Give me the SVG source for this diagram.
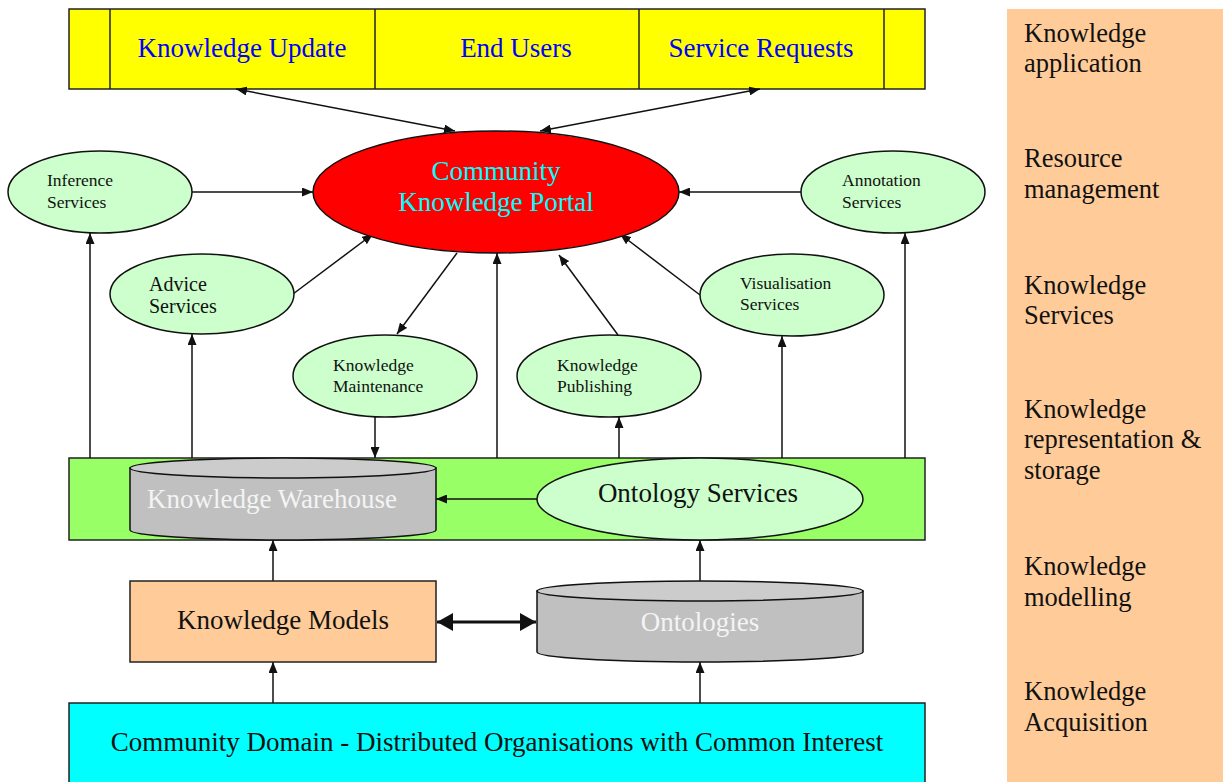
<svg xmlns="http://www.w3.org/2000/svg" width="1223" height="782" viewBox="0 0 1223 782">
<style>
text{font-family:"Liberation Serif","Times New Roman",serif;}
.box{stroke:#222;stroke-width:1.5;}
.ell{fill:#CCFFCC;stroke:#111;stroke-width:1.5;}
.big{font-size:27px;}
.sm{font-size:17.5px;fill:#111;}
.con{stroke:#111;stroke-width:1.5;fill:none;}
.blue{fill:#0000FF;}
.side{font-size:26.5px;fill:#111;}
</style>
<defs>
<marker id="ah" viewBox="0 0 11 9" refX="11" refY="4.5" markerWidth="11" markerHeight="9" markerUnits="userSpaceOnUse" orient="auto-start-reverse"><path d="M0,0 L11,4.5 L0,9 z" fill="#111"/></marker>
<marker id="bh" viewBox="0 0 16 18" refX="16" refY="9" markerWidth="16" markerHeight="18" markerUnits="userSpaceOnUse" orient="auto-start-reverse"><path d="M0,0 L16,9 L0,18 z" fill="#111"/></marker>
</defs>
<rect width="1223" height="782" fill="#fff"/>

<g id="layers">
<rect x="1007" y="9" width="216" height="773" fill="#FFCC99"/>
<text class="side" x="1024" y="42">Knowledge</text>
<text class="side" x="1024" y="72">application</text>
<text class="side" x="1024" y="167">Resource</text>
<text class="side" x="1024" y="198">management</text>
<text class="side" x="1024" y="294">Knowledge</text>
<text class="side" x="1024" y="324">Services</text>
<text class="side" x="1024" y="418">Knowledge</text>
<text class="side" x="1024" y="448">representation &amp;</text>
<text class="side" x="1024" y="479">storage</text>
<text class="side" x="1024" y="575">Knowledge</text>
<text class="side" x="1024" y="606">modelling</text>
<text class="side" x="1024" y="700">Knowledge</text>
<text class="side" x="1024" y="731">Acquisition</text>
</g>

<g id="application-bar">
<rect class="box" x="69" y="9" width="856" height="80" fill="#FFFF00"/>
<line class="box" x1="110" y1="9" x2="110" y2="89"/>
<line class="box" x1="375" y1="9" x2="375" y2="89"/>
<line class="box" x1="639" y1="9" x2="639" y2="89"/>
<line class="box" x1="884" y1="9" x2="884" y2="89"/>
<text class="big blue" x="242" y="57" text-anchor="middle">Knowledge Update</text>
<text class="big blue" x="516" y="57" text-anchor="middle">End Users</text>
<text class="big blue" x="761" y="57" text-anchor="middle">Service Requests</text>
</g>

<g id="knowledge-services-bar">
<rect class="box" x="69" y="458" width="856" height="82" fill="#99FF66"/>
</g>

<g id="community-domain">
<rect class="box" x="69" y="703" width="856" height="90" fill="#00FFFF"/>
<text class="big" x="497" y="751" text-anchor="middle" fill="#111">Community Domain - Distributed Organisations with Common Interest</text>
</g>

<g id="connectors">
<line class="con" x1="236" y1="89" x2="455" y2="131" marker-start="url(#ah)" marker-end="url(#ah)"/>
<line class="con" x1="540" y1="131" x2="760" y2="89" marker-start="url(#ah)" marker-end="url(#ah)"/>
<line class="con" x1="192" y1="192" x2="313" y2="192" marker-end="url(#ah)"/>
<line class="con" x1="802" y1="192" x2="679" y2="192" marker-end="url(#ah)"/>
<line class="con" x1="293" y1="294" x2="373" y2="234" marker-end="url(#ah)"/>
<line class="con" x1="700" y1="295" x2="620" y2="234" marker-end="url(#ah)"/>
<line class="con" x1="457" y1="253" x2="397" y2="334" marker-end="url(#ah)"/>
<line class="con" x1="618" y1="335" x2="559" y2="255" marker-end="url(#ah)"/>
<line class="con" x1="497" y1="458" x2="497" y2="253" marker-end="url(#ah)"/>
<line class="con" x1="375" y1="417" x2="375" y2="458" marker-end="url(#ah)"/>
<line class="con" x1="619" y1="458" x2="619" y2="417" marker-end="url(#ah)"/>
<line class="con" x1="90" y1="458" x2="90" y2="233" marker-end="url(#ah)"/>
<line class="con" x1="192" y1="458" x2="192" y2="334" marker-end="url(#ah)"/>
<line class="con" x1="782" y1="458" x2="782" y2="336" marker-end="url(#ah)"/>
<line class="con" x1="905" y1="458" x2="905" y2="233" marker-end="url(#ah)"/>
<line class="con" x1="537" y1="499" x2="436" y2="499" marker-end="url(#ah)"/>
<line class="con" x1="273" y1="581" x2="273" y2="540" marker-end="url(#ah)"/>
<line class="con" x1="273" y1="703" x2="273" y2="662" marker-end="url(#ah)"/>
<line class="con" x1="700" y1="581" x2="700" y2="540" marker-end="url(#ah)"/>
<line class="con" x1="700" y1="703" x2="700" y2="662" marker-end="url(#ah)"/>
<line x1="437" y1="622" x2="536" y2="622" stroke="#111" stroke-width="3" marker-start="url(#bh)" marker-end="url(#bh)"/>
</g>

<g id="portal">
<ellipse cx="496" cy="192" rx="183" ry="61" fill="#FF0000" stroke="#111" stroke-width="1.5"/>
<text class="big" x="496" y="180" text-anchor="middle" fill="#00FFFF">Community</text>
<text class="big" x="496" y="211" text-anchor="middle" fill="#00FFFF">Knowledge Portal</text>
</g>

<g id="inference-services">
<ellipse class="ell" cx="100" cy="192" rx="92" ry="41"/>
<text class="sm" x="47" y="186">Inference</text>
<text class="sm" x="47" y="208">Services</text>
</g>

<g id="annotation-services">
<ellipse class="ell" cx="893" cy="192" rx="92" ry="41"/>
<text class="sm" x="842" y="186">Annotation</text>
<text class="sm" x="842" y="208">Services</text>
</g>

<g id="advice-services">
<ellipse class="ell" cx="202" cy="294" rx="92" ry="40"/>
<text x="149" y="291" font-size="20" fill="#111">Advice</text>
<text x="149" y="313" font-size="20" fill="#111">Services</text>
</g>

<g id="visualisation-services">
<ellipse class="ell" cx="792" cy="295" rx="92" ry="41"/>
<text class="sm" x="740" y="289">Visualisation</text>
<text class="sm" x="740" y="310">Services</text>
</g>

<g id="knowledge-maintenance">
<ellipse class="ell" cx="385" cy="376" rx="92" ry="41"/>
<text class="sm" x="333" y="371">Knowledge</text>
<text class="sm" x="333" y="392">Maintenance</text>
</g>

<g id="knowledge-publishing">
<ellipse class="ell" cx="609" cy="376" rx="92" ry="41"/>
<text class="sm" x="557" y="371">Knowledge</text>
<text class="sm" x="557" y="392">Publishing</text>
</g>

<g id="knowledge-warehouse">
<path d="M130,468 V530 A153,10 0 0 0 436,530 V468 Z" fill="#C0C0C0" stroke="#111" stroke-width="1.5"/>
<ellipse cx="283" cy="468" rx="153" ry="10" fill="#CCCCCC" stroke="#111" stroke-width="1.5"/>
<text class="big" x="147" y="508" fill="#F4F4F4">Knowledge Warehouse</text>
</g>

<g id="ontology-services">
<ellipse class="ell" cx="700" cy="499" rx="163" ry="41"/>
<text class="big" x="698" y="502" text-anchor="middle" fill="#111">Ontology Services</text>
</g>

<g id="knowledge-models">
<rect class="box" x="130" y="581" width="306" height="81" fill="#FFCC99"/>
<text class="big" x="283" y="629" text-anchor="middle" fill="#111">Knowledge Models</text>
</g>

<g id="ontologies">
<path d="M537,591 V652 A163,10 0 0 0 863,652 V591 Z" fill="#C0C0C0" stroke="#111" stroke-width="1.5"/>
<ellipse cx="700" cy="591" rx="163" ry="10" fill="#CCCCCC" stroke="#111" stroke-width="1.5"/>
<text class="big" x="700" y="631" text-anchor="middle" fill="#F4F4F4">Ontologies</text>
</g>
</svg>
